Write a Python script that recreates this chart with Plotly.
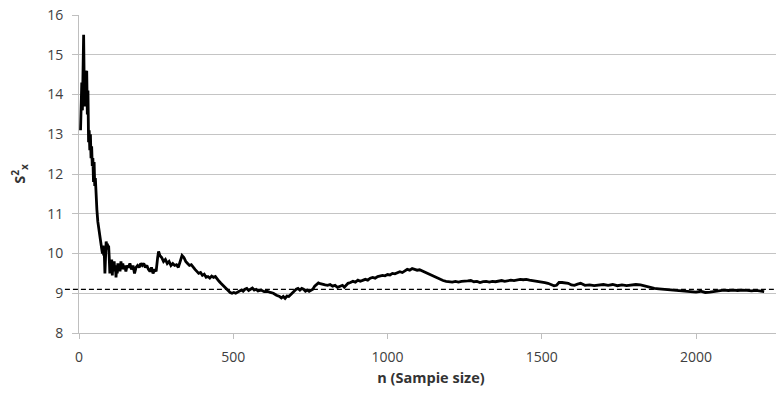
import plotly.graph_objects as go

# Sample size n and running sample variance S²x
n_values = [5, 7, 9, 11, 13, 15, 17, 19, 21, 23, 25, 27, 29, 31, 33, 35, 37, 39, 41, 43, 45, 47, 49, 51, 53, 55,
            58, 61, 64, 67, 70, 73, 76, 78, 80, 82, 84, 86, 88, 90, 92, 94, 96, 98, 100, 102, 104, 106, 108, 110,
            112, 114, 116, 118, 120, 122, 124, 126, 128, 130, 133, 136, 139, 142, 145, 148, 152, 156, 160, 165,
            170, 175, 180, 185, 190, 195, 200, 205, 210, 215, 220, 225, 230, 235, 240, 245, 250, 255, 258, 262,
            268, 274, 280, 286, 292, 298, 304, 310, 316, 322, 328, 334, 340, 346, 352, 358, 364, 370, 376, 382,
            388, 394, 400, 406, 412, 418, 424, 430, 436, 442, 448, 454, 460, 466, 472, 478, 484, 490, 496, 502,
            508, 514, 520, 526, 532, 538, 544, 550, 556, 562, 568, 574, 580, 590, 600, 610, 620, 630, 640, 650,
            656, 662, 668, 674, 680, 686, 692, 698, 704, 710, 716, 722, 728, 734, 740, 746, 752, 758, 764, 770,
            776, 782, 790, 798, 806, 814, 822, 830, 838, 846, 854, 860, 866, 872, 880, 888, 896, 904, 912, 920,
            928, 936, 944, 952, 960, 968, 976, 984, 992, 1000, 1008, 1016, 1024, 1032, 1040, 1048, 1056, 1064,
            1072, 1080, 1088, 1096, 1104, 1112, 1120, 1130, 1140, 1150, 1160, 1170, 1180, 1190, 1200, 1210, 1220,
            1230, 1240, 1250, 1260, 1270, 1280, 1290, 1300, 1310, 1320, 1330, 1340, 1350, 1360, 1370, 1380, 1390,
            1400, 1410, 1420, 1430, 1440, 1450, 1460, 1470, 1480, 1490, 1500, 1510, 1520, 1530, 1540, 1548, 1556,
            1566, 1576, 1586, 1596, 1606, 1616, 1626, 1640, 1655, 1670, 1685, 1700, 1715, 1730, 1745, 1760, 1775,
            1790, 1805, 1820, 1835, 1850, 1865, 1880, 1895, 1910, 1925, 1940, 1955, 1970, 1985, 2000, 2015, 2030,
            2045, 2060, 2075, 2090, 2105, 2120, 2135, 2150, 2165, 2180, 2195, 2210, 2221]

s2_values = [13.1, 13.9, 14.3, 13.6, 14.7, 15.5, 14.2, 13.7, 14.6, 13.8, 14.6, 13.5, 14.1, 12.8, 13.1, 12.6, 13.0,
             12.4, 12.7, 12.2, 12.4, 11.8, 12.3, 11.7, 11.9, 11.5,
             11.1, 10.8, 10.6, 10.4, 10.2, 10.15, 10.0, 10.2, 9.95, 10.0, 9.5, 9.9, 10.3, 10.2, 10.25, 10.1, 10.2,
             9.9, 9.5, 9.8, 9.7, 9.85, 9.45, 9.75,
             9.6, 9.8, 9.55, 9.7, 9.4, 9.65, 9.5, 9.75, 9.6, 9.7, 9.55, 9.8, 9.6, 9.75, 9.6, 9.7, 9.55, 9.7, 9.65,
             9.75, 9.6, 9.7, 9.5, 9.65, 9.7, 9.65, 9.75, 9.7, 9.75, 9.65, 9.7, 9.6, 9.55, 9.65, 9.5, 9.6, 9.55,
             9.9, 10.05, 9.95,
             9.9, 9.8, 9.85, 9.75, 9.8, 9.7, 9.75, 9.7, 9.72, 9.65, 9.8, 9.95, 9.9, 9.8, 9.75, 9.7, 9.72, 9.65,
             9.6, 9.55,
             9.5, 9.52, 9.45, 9.48, 9.4, 9.42, 9.38, 9.43, 9.4, 9.42, 9.35, 9.3, 9.25, 9.2, 9.15, 9.1, 9.05, 9.02,
             9.0, 9.02,
             9.0, 9.03, 9.05, 9.08, 9.05, 9.1, 9.12, 9.07, 9.1, 9.13, 9.08, 9.1, 9.06, 9.08, 9.04, 9.05, 9.02, 9.0,
             8.95, 8.92,
             8.88, 8.92, 8.87, 8.93, 8.92, 8.97, 9.02, 9.05, 9.1, 9.12, 9.08, 9.12, 9.1, 9.05, 9.08, 9.05, 9.08,
             9.1, 9.18, 9.22,
             9.26, 9.24, 9.22, 9.21, 9.2, 9.22, 9.18, 9.2, 9.15, 9.17, 9.2, 9.15, 9.2, 9.25, 9.27, 9.3, 9.28, 9.33,
             9.3, 9.32,
             9.35, 9.33, 9.38, 9.4, 9.38, 9.42, 9.43, 9.45, 9.44, 9.47, 9.46, 9.5, 9.49, 9.52, 9.54, 9.52, 9.56,
             9.6,
             9.58, 9.62, 9.6, 9.58, 9.59, 9.56, 9.55, 9.5, 9.47, 9.42, 9.38, 9.35, 9.32, 9.3, 9.29, 9.28, 9.3,
             9.28, 9.3, 9.3, 9.31, 9.32, 9.29, 9.3, 9.27, 9.29, 9.3, 9.28, 9.3, 9.29, 9.3, 9.32, 9.3, 9.31,
             9.33, 9.32, 9.33, 9.35, 9.34, 9.35, 9.33, 9.32, 9.3, 9.29, 9.28, 9.27, 9.25, 9.22, 9.19, 9.2, 9.27,
             9.27, 9.26, 9.25, 9.21, 9.2, 9.23, 9.25, 9.2, 9.21, 9.19, 9.21, 9.22, 9.2, 9.22, 9.19, 9.21, 9.19,
             9.2, 9.22, 9.21, 9.18, 9.15, 9.12, 9.11, 9.1, 9.08, 9.07, 9.06, 9.05, 9.04, 9.04, 9.03, 9.05, 9.02,
             9.03, 9.05, 9.07, 9.08, 9.07, 9.08, 9.07, 9.08, 9.07, 9.06, 9.07, 9.05, 9.04]

reference_level = 9.1
y_ticks = [8, 9, 10, 11, 12, 13, 14, 15, 16]
x_ticks = [0, 500, 1000, 1500, 2000]

fig = go.Figure()
fig.add_trace(go.Scatter(
    x=n_values, y=s2_values, mode="lines",
    line=dict(color="#000000", width=2.8),
    showlegend=False, hoverinfo="x+y",
))

fig.add_shape(
    type="line", xref="x domain", yref="y",
    x0=-0.02, x1=0.987, y0=reference_level, y1=reference_level,
    line=dict(color="#000000", width=1.2, dash="5px,3px"),
)

axis_font = dict(family="Open Sans, Liberation Sans, sans-serif", size=14, color="#404040")
title_font = dict(family="Open Sans, sans-serif", size=14.5, color="#333333")

# The page body adds an 8px offset, so the figure is sized to fit the window.
fig.update_layout(
    width=776, height=386,
    margin=dict(l=71, r=1, t=7, b=61),
    paper_bgcolor="white", plot_bgcolor="white",
    font=axis_font,
    xaxis=dict(
        range=[0, 2282], tickvals=x_ticks, ticktext=[str(v) for v in x_ticks],
        showgrid=False, zeroline=False, automargin=False,
        showline=True, linecolor="#bfbfbf", linewidth=1,
        ticks="outside", ticklen=5, tickcolor="#bfbfbf",
        ticklabelstandoff=6, ticklabeloverflow="allow",
        tickfont=axis_font,
        title=dict(text="<b>n (Sampie size)</b>", font=title_font, standoff=8),
    ),
    yaxis=dict(
        range=[8, 16], tickvals=y_ticks, ticktext=[str(v) for v in y_ticks],
        showgrid=True, gridcolor="#c4c4c4", gridwidth=1, zeroline=False, automargin=False,
        showline=True, linecolor="#bfbfbf", linewidth=1,
        ticks="outside", ticklen=6, tickcolor="#bfbfbf",
        ticklabelstandoff=6, ticklabeloverflow="allow",
        tickfont=axis_font,
        title=dict(text="<b>S<sup>2</sup><sub>x</sub></b>", font=title_font, standoff=20),
    ),
)

fig.write_html("out.html")
